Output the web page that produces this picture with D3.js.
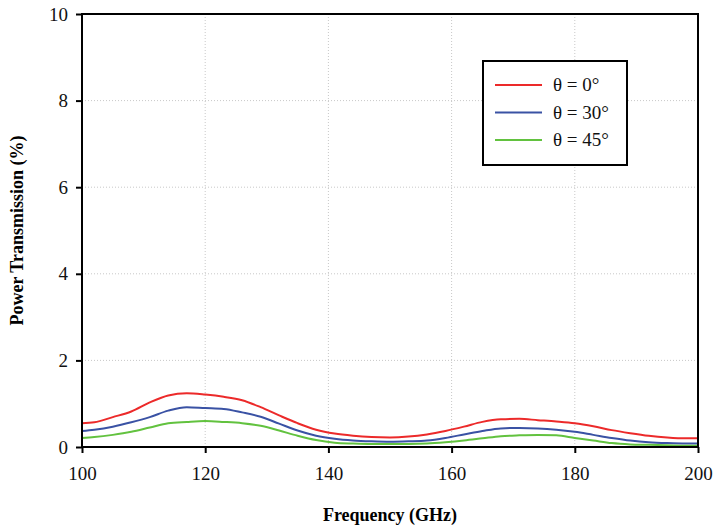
<!DOCTYPE html>
<html>
<head>
<meta charset="utf-8">
<script src="https://cdn.jsdelivr.net/npm/d3@7"></script>
<style>
  body { margin: 0; background: #fff; }
  svg, svg text { font-family: "Times New Roman", "Liberation Serif", "DejaVu Serif", serif; }
</style>
</head>
<body>
<div id="chart"></div>
<script>
// data
const freq = [100, 102, 105, 108, 111, 114, 117, 120, 123, 126, 129, 132, 135, 138, 141, 144, 147, 150,
  153, 156, 159, 162, 165, 168, 171, 174, 177, 180, 183, 186, 189, 192, 195, 198, 200];
const theta0 = [0.55, 0.57, 0.69, 0.82, 1.03, 1.19, 1.24, 1.21, 1.16, 1.08, 0.92, 0.73, 0.55, 0.40, 0.31, 0.26, 0.23, 0.22,
  0.24, 0.29, 0.37, 0.47, 0.58, 0.64, 0.65, 0.62, 0.59, 0.55, 0.48, 0.39, 0.32, 0.26, 0.22, 0.20, 0.20];
const theta30 = [0.37, 0.40, 0.47, 0.57, 0.69, 0.84, 0.92, 0.90, 0.88, 0.80, 0.70, 0.54, 0.38, 0.26, 0.19, 0.15, 0.13, 0.12,
  0.13, 0.15, 0.21, 0.29, 0.37, 0.43, 0.44, 0.43, 0.40, 0.35, 0.28, 0.21, 0.15, 0.11, 0.09, 0.08, 0.08];
const theta45 = [0.21, 0.23, 0.28, 0.35, 0.45, 0.55, 0.58, 0.60, 0.58, 0.55, 0.49, 0.38, 0.26, 0.16, 0.10, 0.08, 0.07, 0.07,
  0.07, 0.08, 0.11, 0.15, 0.20, 0.25, 0.27, 0.28, 0.27, 0.21, 0.15, 0.09, 0.06, 0.05, 0.04, 0.03, 0.03];
const seriesNames = ["θ = 0°", "θ = 30°", "θ = 45°"];
const xTicks = [100, 120, 140, 160, 180, 200];
const yTicks = [0, 2, 4, 6, 8, 10];

const width = 716;
const height = 530;
const margin = { top: 14, right: 18, bottom: 83, left: 82 };

const svg = d3.select("#chart")
  .append("svg")
  .attr("width", width)
  .attr("height", height);

const x = d3.scaleLinear().domain([100, 200]).range([margin.left, width - margin.right]);
const y = d3.scaleLinear().domain([0, 10]).range([height - margin.bottom, margin.top]);

// dotted grid
const grid = svg.append("g");
grid.selectAll("line.gx")
  .data(xTicks.slice(1, -1))
  .enter().append("line")
  .attr("x1", d => x(d)).attr("x2", d => x(d))
  .attr("y1", y(0)).attr("y2", y(10))
  .attr("stroke", "#c8c8c8").attr("stroke-width", 1)
  .attr("stroke-dasharray", "1,2");
grid.selectAll("line.gy")
  .data(yTicks.slice(1, -1))
  .enter().append("line")
  .attr("x1", x(100)).attr("x2", x(200))
  .attr("y1", d => y(d)).attr("y2", d => y(d))
  .attr("stroke", "#c8c8c8").attr("stroke-width", 1)
  .attr("stroke-dasharray", "1,2");

// curves
const series = [
  { name: seriesNames[0], values: theta0, color: "#ec2a2a" },
  { name: seriesNames[1], values: theta30, color: "#3a52a4" },
  { name: seriesNames[2], values: theta45, color: "#62c23f" }
];

const line = d3.line()
  .x((d, i) => x(freq[i]))
  .y(d => y(d))
  .curve(d3.curveMonotoneX);

svg.append("g").selectAll("path")
  .data(series)
  .enter().append("path")
  .attr("d", d => line(d.values))
  .attr("fill", "none")
  .attr("stroke", d => d.color)
  .attr("stroke-width", 2);

// frame
svg.append("rect")
  .attr("x", x(100)).attr("y", y(10))
  .attr("width", x(200) - x(100)).attr("height", y(0) - y(10))
  .attr("fill", "none").attr("stroke", "#000").attr("stroke-width", 2);

// axes
const xAxis = svg.append("g")
  .attr("transform", `translate(0,${y(0)})`)
  .call(d3.axisBottom(x).tickValues(xTicks).tickSize(6).tickPadding(14));
const yAxis = svg.append("g")
  .attr("transform", `translate(${x(100)},0)`)
  .call(d3.axisLeft(y).tickValues(yTicks).tickSize(6).tickPadding(8));

[xAxis, yAxis].forEach(a => {
  a.attr("font-family", null).attr("font-size", null);
  a.select(".domain").remove();
  a.selectAll(".tick line").attr("stroke", "#000").attr("stroke-width", 2);
  a.selectAll(".tick text")
    .attr("fill", "#111")
    .style("font-size", "19px");
});

// axis titles
svg.append("text")
  .attr("x", (x(100) + x(200)) / 2)
  .attr("y", 521)
  .attr("text-anchor", "middle")
  .style("font-size", "18px")
  .attr("font-weight", "bold")
  .text("Frequency (GHz)");

svg.append("text")
  .attr("transform", `translate(23,${(y(0) + y(10)) / 2}) rotate(-90)`)
  .attr("text-anchor", "middle")
  .style("font-size", "18px")
  .attr("font-weight", "bold")
  .text("Power Transmission (%)");

// legend
const legend = svg.append("g").attr("transform", "translate(483,61)");
legend.append("rect")
  .attr("width", 144).attr("height", 104)
  .attr("fill", "#fff").attr("stroke", "#000").attr("stroke-width", 2);

series.forEach((s, i) => {
  const ly = 24 + i * 27.5;
  legend.append("line")
    .attr("x1", 12).attr("x2", 59)
    .attr("y1", ly).attr("y2", ly)
    .attr("stroke", s.color).attr("stroke-width", 2);
  legend.append("text")
    .attr("x", 70).attr("y", ly + 6)
    .style("font-size", "19px")
    .attr("fill", "#111")
    .text(s.name);
});
</script>
</body>
</html>
